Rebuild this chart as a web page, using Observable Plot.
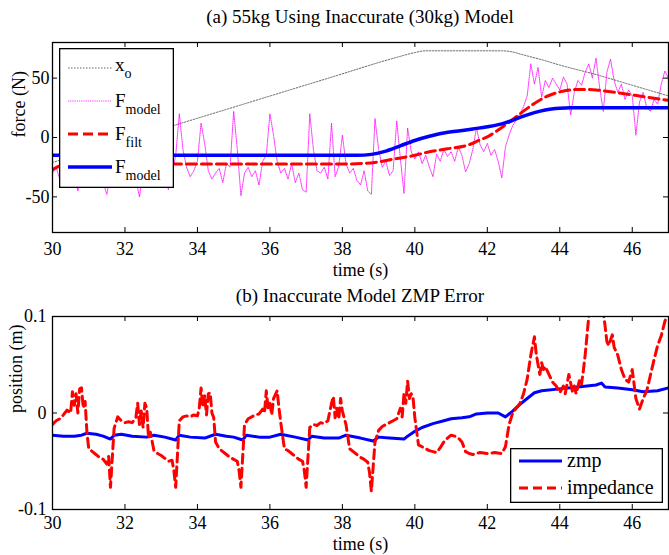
<!DOCTYPE html>
<html><head><meta charset="utf-8">
<script src="https://cdn.jsdelivr.net/npm/d3@7"></script>
<script src="https://cdn.jsdelivr.net/npm/@observablehq/plot@0.6"></script>
<style>
body{margin:0;background:#fff;font-family:"Liberation Serif",serif;}
#wrap{position:relative;width:669px;height:555px;overflow:hidden;background:#fff;}
#wrap svg, #wrap svg text, #wrap svg tspan{font-family:"Liberation Serif",serif !important;}
.title{position:absolute;left:52px;width:616px;text-align:center;font-size:19px;color:#000;white-space:nowrap;}
.pl{position:absolute;left:0;}
.leg{position:absolute;}
</style></head>
<body>
<div id="wrap">
  <div class="title" id="t1" style="top:5px;height:24px;line-height:24px;"></div>
  <div class="pl" id="p1" style="top:34px;"></div>
  <div class="title" id="t2" style="top:284px;height:24px;line-height:24px;"></div>
  <div class="pl" id="p2" style="top:314px;"></div>
  <svg class="leg" id="leg1" style="left:59px;top:48px;" width="115" height="140"></svg>
  <svg class="leg" id="leg2" style="left:510px;top:448px;" width="153" height="55"></svg>
</div>
<script>
const FONT = "Liberation Serif";
const titleA = "(a) 55kg Using Inaccurate (30kg) Model";
const titleB = "(b) Inaccurate Model ZMP Error";
const xLabel = "time (s)";
const forceLabel = "force (N)";
const posLabel = "position (m)";

const xTicks = [30, 32, 34, 36, 38, 40, 42, 44, 46];
const forceTicks = [-50, 0, 50];
const posTicks = [-0.1, 0, 0.1];

// (a) x_o reference
const xoT = [30, 33.27, 37.66, 39.5, 40.0, 40.3, 42.4, 42.7, 43.0, 43.5, 44, 45, 46, 47];
const xoV = [-21, 9.4, 50.4, 67.5, 71.5, 73, 73, 72, 69.5, 65.5, 61, 53, 44, 35];

// (a) raw F_model (sampled every 0.1 s from 30 s)
const fRawStart = 30, fRawStep = 0.1;
const fRawV = [
  -30,-25,-35,-28,-40,-22,-30,-45,-27,-20,
  -25,-33,-18,-28,-38,-48,-30,-10,5,-22,
  -15,-30,-25,-35,-50,-28,-20,-38,-25,-42,
  -30,-35,-44,-30,-15,20,-10,-25,-33,-28,
  -20,12,-5,-28,-35,-30,-26,-38,-22,-25,
  22,-10,-49,-30,-25,-33,-28,-40,-20,-15,
  20,2,-20,-30,-26,-35,-22,-38,-30,-44,
  -46,20,-10,-28,-30,-25,-35,12,-33,-24,
  2,-22,-30,-26,-36,-40,-28,-45,-48,16,
  -10,-25,-20,-32,-28,14,-18,-47,8,-12,
  -18,-12,-22,-15,-25,-33,-14,-20,-10,-16,
  -12,-20,-8,-15,-29,-22,-10,8,-6,-12,
  -5,-15,-10,-20,-34,-8,2,10,15,20,
  26,35,62,45,59,34,48,42,50,45,
  40,51,45,19,38,48,44,55,62,50,
  67,42,22,55,66,48,38,45,32,40,
  35,2,30,38,25,22,32,28,45,56,
  50
];

// (a) F_filt
const fFiltT = [30.0, 30.2, 30.5, 38.0, 38.6, 39.0, 39.5, 40.0, 40.4, 40.9, 41.5, 41.8, 42.0, 42.26, 42.67, 43.17, 43.6, 44.08, 44.55, 45.0, 45.46, 46.4, 47];
const fFiltV = [-27, -24, -22.3, -22.3, -21.8, -20.5, -17.7, -15, -12, -9.5, -6, -2, 0.5, 5.5, 14.5, 26, 34, 39, 40.5, 40, 38.3, 34, 31.3];

// (a) F_model (smooth)
const fModT = [30, 38.4, 38.8, 39.2, 39.6, 40.0, 40.4, 40.8, 41.2, 41.6, 42.0, 42.4, 42.7, 43.0, 43.3, 43.6, 44.0, 44.3, 47];
const fModV = [-15, -15, -14.2, -11.5, -7, -2.5, 1, 3.8, 5.5, 7.2, 9, 11.5, 14.5, 18, 21, 23.2, 24.6, 25, 25];

// (b) zmp
const zmpT = [30.0,30.3,30.6,30.8,30.95,31.2,31.4,31.6,31.7,31.9,32.2,32.6,32.8,33.1,33.4,33.5,33.8,34.2,34.5,34.8,35.0,35.25,35.35,35.7,36.0,36.3,36.7,37.05,37.15,37.5,37.9,38.1,38.5,38.85,39.0,39.3,39.7,39.8,40.0,40.2,40.5,40.8,41.0,41.3,41.5,41.7,42.0,42.3,42.5,42.7,42.9,43.1,43.3,43.5,44.0,44.5,45.0,45.15,45.25,45.6,46.0,46.3,46.7,47.0];
const zmpV = [-0.023,-0.024,-0.024,-0.023,-0.021,-0.022,-0.024,-0.027,-0.023,-0.022,-0.024,-0.025,-0.023,-0.025,-0.028,-0.023,-0.025,-0.026,-0.022,-0.024,-0.025,-0.028,-0.023,-0.025,-0.025,-0.022,-0.025,-0.028,-0.024,-0.026,-0.026,-0.023,-0.026,-0.029,-0.025,-0.026,-0.027,-0.024,-0.019,-0.015,-0.011,-0.008,-0.006,-0.005,-0.004,-0.001,0.000,0.000,-0.004,0.002,0.009,0.015,0.021,0.023,0.025,0.027,0.029,0.031,0.027,0.026,0.024,0.022,0.023,0.026];

// (b) impedance
const impT = [30.0,30.1,30.2,30.3,30.4,30.5,30.55,30.6,30.65,30.7,30.75,30.8,30.85,30.9,30.95,31.0,31.1,31.2,31.3,31.4,31.5,31.55,31.6,31.7,31.8,31.9,32.0,32.1,32.2,32.3,32.35,32.4,32.45,32.5,32.55,32.6,32.65,32.7,32.8,32.9,33.0,33.1,33.2,33.3,33.35,33.4,33.5,33.6,33.7,33.8,33.9,34.0,34.05,34.1,34.15,34.2,34.25,34.3,34.35,34.4,34.45,34.5,34.6,34.7,34.8,34.9,35.0,35.1,35.15,35.2,35.3,35.4,35.5,35.6,35.7,35.8,35.85,35.9,35.95,36.0,36.05,36.1,36.2,36.25,36.3,36.4,36.5,36.6,36.7,36.8,36.9,36.95,37.0,37.1,37.2,37.3,37.4,37.5,37.6,37.7,37.75,37.8,37.85,37.9,37.95,38.0,38.1,38.2,38.3,38.4,38.5,38.6,38.7,38.75,38.8,38.9,39.0,39.1,39.2,39.3,39.4,39.5,39.6,39.65,39.7,39.75,39.8,39.85,39.9,39.95,40.0,40.1,40.2,40.3,40.4,40.5,40.6,40.7,40.8,40.9,41.0,41.1,41.2,41.3,41.4,41.5,41.6,41.8,42.0,42.2,42.4,42.5,42.6,42.7,42.8,42.9,43.0,43.1,43.2,43.3,43.35,43.4,43.45,43.5,43.55,43.6,43.7,43.8,43.9,44.0,44.1,44.15,44.25,44.35,44.4,44.45,44.55,44.6,44.65,44.7,44.8,44.9,45.0,45.1,45.2,45.25,45.3,45.35,45.45,45.5,45.6,45.7,45.8,45.9,46.0,46.05,46.1,46.2,46.3,46.4,46.5,46.6,46.7,46.8,46.9,47.0];
const impV = [-0.012,-0.008,-0.006,-0.002,0.003,0.0,0.022,0.008,0.02,0.0,0.025,0.026,0.005,0.012,-0.02,-0.037,-0.040,-0.043,-0.046,-0.048,-0.053,-0.045,-0.077,-0.016,-0.004,-0.008,-0.010,-0.009,-0.010,-0.005,0.010,-0.012,0.002,-0.015,0.010,0.005,-0.026,-0.020,-0.039,-0.042,-0.044,-0.047,-0.050,-0.049,-0.060,-0.077,-0.008,-0.004,-0.003,-0.004,-0.002,-0.003,0.005,0.026,0.006,0.018,-0.002,0.020,0.021,0.0,-0.005,-0.030,-0.037,-0.040,-0.043,-0.046,-0.048,-0.050,-0.060,-0.077,-0.012,-0.006,-0.004,-0.002,-0.001,0.004,0.0,0.023,0.005,0.010,-0.002,0.015,0.023,0.005,-0.010,-0.037,-0.039,-0.042,-0.045,-0.048,-0.050,-0.060,-0.077,-0.015,-0.012,-0.013,-0.010,-0.011,-0.008,0.010,0.017,-0.005,0.005,-0.006,0.015,0.002,-0.012,-0.037,-0.040,-0.043,-0.046,-0.048,-0.051,-0.062,-0.081,-0.030,-0.018,-0.014,-0.012,-0.010,-0.008,-0.006,0.005,-0.004,0.020,0.010,0.033,0.015,0.020,0.016,-0.005,-0.033,-0.035,-0.037,-0.039,-0.040,-0.041,-0.036,-0.030,-0.026,-0.023,-0.024,-0.026,-0.030,-0.040,-0.042,-0.043,-0.041,-0.042,-0.041,-0.042,-0.035,-0.012,0.0,0.005,0.010,0.020,0.035,0.060,0.079,0.061,0.050,0.040,0.052,0.045,0.048,0.040,0.032,0.028,0.021,0.028,0.020,0.040,0.022,0.028,0.020,0.035,0.030,0.044,0.060,0.100,0.130,0.140,0.130,0.105,0.090,0.074,0.070,0.081,0.068,0.060,0.045,0.035,0.032,0.045,0.030,0.015,0.004,0.015,0.023,0.039,0.055,0.070,0.080,0.095,0.105];

const zip = (T, V) => T.map((t, i) => ({t, v: V[i]}));
const rawRows = fRawV.map((v, i) => ({t: fRawStart + i * fRawStep, v}));

const styleBase = {fontFamily: FONT, fontSize: "18px", color: "#000", background: "transparent", overflow: "visible"};
const fmt = d => String(d);

// Top plot
const W = 669, ML = 52, MR = 1;
const fw = W - ML - MR;
const H1 = 240, MT1 = 8, MB1 = 42, fh1 = H1 - MT1 - MB1;
const p1 = Plot.plot({
  width: W, height: H1, marginLeft: ML, marginRight: MR, marginTop: MT1, marginBottom: MB1,
  style: styleBase,
  x: {domain: [30, 47], ticks: xTicks, tickSize: 0, tickPadding: 10, tickFormat: fmt, label: null},
  y: {domain: [-80, 80], ticks: forceTicks, tickSize: 0, tickPadding: 3, tickFormat: fmt, label: null},
  marks: [
    Plot.line(zip(xoT, xoV), {x: "t", y: "v", stroke: "#555", strokeWidth: 0.9, strokeDasharray: "1.5,1.5", curve: "monotone-x", clip: true}),
    Plot.line(rawRows, {x: "t", y: "v", stroke: "#ff00ff", strokeWidth: 0.8, strokeDasharray: "1.2,1", clip: true}),
    Plot.line(zip(fFiltT, fFiltV), {x: "t", y: "v", stroke: "#ff0000", strokeWidth: 3, strokeDasharray: "10,5", curve: "monotone-x", clip: true}),
    Plot.line(zip(fModT, fModV), {x: "t", y: "v", stroke: "#0000ff", strokeWidth: 3.5, curve: "monotone-x", clip: true}),
    Plot.tickX(xTicks, {x: d => d, insetTop: fh1 - 5, stroke: "#000"}),
    Plot.tickX(xTicks, {x: d => d, insetBottom: fh1 - 5, stroke: "#000"}),
    Plot.tickY(forceTicks, {y: d => d, insetRight: fw - 5, stroke: "#000"}),
    Plot.tickY(forceTicks, {y: d => d, insetLeft: fw - 5, stroke: "#000"}),
    Plot.frame({stroke: "#000", strokeWidth: 1.3}),
    Plot.text([xLabel], {frameAnchor: "bottom", dy: 43, text: d => d, fontSize: 18}),
    Plot.text([forceLabel], {frameAnchor: "left", dx: -33, rotate: -90, text: d => d, fontSize: 18})
  ]
});
document.getElementById("p1").appendChild(p1);

// Bottom plot
const H2 = 241, MT2 = 2, MB2 = 46, fh2 = H2 - MT2 - MB2;
const p2 = Plot.plot({
  width: W, height: H2, marginLeft: ML, marginRight: MR, marginTop: MT2, marginBottom: MB2,
  style: styleBase,
  x: {domain: [30, 47], ticks: xTicks, tickSize: 0, tickPadding: 7, tickFormat: fmt, label: null},
  y: {domain: [-0.1, 0.1], ticks: posTicks, tickSize: 0, tickPadding: 6, tickFormat: fmt, label: null},
  marks: [
    Plot.line(zip(zmpT, zmpV), {x: "t", y: "v", stroke: "#0000ff", strokeWidth: 3, clip: true}),
    Plot.line(zip(impT, impV), {x: "t", y: "v", stroke: "#ff0000", strokeWidth: 3, strokeDasharray: "9,5", clip: true}),
    Plot.tickX(xTicks, {x: d => d, insetTop: fh2 - 5, stroke: "#000"}),
    Plot.tickX(xTicks, {x: d => d, insetBottom: fh2 - 5, stroke: "#000"}),
    Plot.tickY(posTicks, {y: d => d, insetRight: fw - 5, stroke: "#000"}),
    Plot.tickY(posTicks, {y: d => d, insetLeft: fw - 5, stroke: "#000"}),
    Plot.frame({stroke: "#000", strokeWidth: 1.3}),
    Plot.text([xLabel], {frameAnchor: "bottom", dy: 40, text: d => d, fontSize: 18}),
    Plot.text([posLabel], {frameAnchor: "left", dx: -36, rotate: -90, text: d => d, fontSize: 18})
  ]
});
document.getElementById("p2").appendChild(p2);

document.getElementById("t1").textContent = titleA;
document.getElementById("t2").textContent = titleB;

// Legends
const NS = "http://www.w3.org/2000/svg";
function el(parent, tag, attrs) {
  const e = document.createElementNS(NS, tag);
  for (const k in attrs) e.setAttribute(k, attrs[k]);
  parent.appendChild(e);
  return e;
}
const legA = [
  {main: "x", sub: "o", stroke: "#555", w: 0.9, dash: "1.5,1.5"},
  {main: "F", sub: "model", stroke: "#ff00ff", w: 0.8, dash: "1.2,1"},
  {main: "F", sub: "filt", stroke: "#ff0000", w: 3, dash: "10,5"},
  {main: "F", sub: "model", stroke: "#0000ff", w: 3.5, dash: null}
];
const g1 = document.getElementById("leg1");
el(g1, "rect", {x: 0.65, y: 0.65, width: 113.7, height: 138.7, fill: "#fff", stroke: "#000", "stroke-width": 1.3});
legA.forEach((d, i) => {
  const y = 20 + i * 33;
  const a = {x1: 9, x2: 53, y1: y, y2: y, stroke: d.stroke, "stroke-width": d.w};
  if (d.dash) a["stroke-dasharray"] = d.dash;
  el(g1, "line", a);
  const t = el(g1, "text", {x: 56, y: y + (d.main === "x" ? 3 : 6), "font-family": FONT, "font-size": 19, fill: "#000"});
  const m = el(t, "tspan", {});
  m.textContent = d.main;
  const s = el(t, "tspan", {dy: 7, "font-size": 14});
  s.textContent = d.sub;
});
const legB = [
  {label: "zmp", stroke: "#0000ff", w: 3, dash: null},
  {label: "impedance", stroke: "#ff0000", w: 3, dash: "9,5"}
];
const g2 = document.getElementById("leg2");
el(g2, "rect", {x: 0.65, y: 0.65, width: 151.7, height: 53.7, fill: "#fff", stroke: "#000", "stroke-width": 1.3});
legB.forEach((d, i) => {
  const y = 13 + i * 27;
  const a = {x1: 9, x2: 52, y1: y, y2: y, stroke: d.stroke, "stroke-width": d.w};
  if (d.dash) a["stroke-dasharray"] = d.dash;
  el(g2, "line", a);
  const t = el(g2, "text", {x: 57, y: y + 6, "font-family": FONT, "font-size": 20, fill: "#000"});
  t.textContent = d.label;
});
</script>
</body></html>
